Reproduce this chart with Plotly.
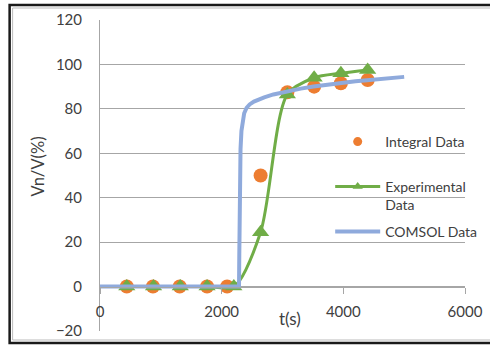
import plotly.graph_objects as go

# ---- data ----
integral_t = [440, 870, 1310, 1760, 2090, 2640, 3080, 3520, 3960, 4400]
integral_v = [0, 0, 0, 0, 0, 50, 87.5, 90, 91.5, 93]

exp_t = [440, 880, 1320, 1760, 2200, 2640, 3080, 3520, 3960, 4400]
exp_v = [0, 0, 0, 0, 0, 24.5, 86.5, 94, 96, 97.5]

comsol_t = [0, 500, 1000, 1500, 2000, 2285, 2290, 2295, 2300, 2310, 2325, 2345,
            2370, 2410, 2460, 2530, 2600, 2700, 2850, 3070, 3300, 3510, 3750,
            3950, 4200, 4390, 4700, 5000]
comsol_v = [0, 0, 0, 0, 0, 0, 15, 35, 50, 62, 70, 75,
            78, 80.5, 82, 83.3, 84.2, 85.2, 86.5, 87.9, 89.1, 90.1, 91,
            91.7, 92.4, 92.9, 93.7, 94.4]

x_ticks = [0, 2000, 4000, 6000]
y_ticks = [-20, 0, 20, 40, 60, 80, 100, 120]
series_names = ["Integral Data", "Experimental<br>Data", "COMSOL Data"]

FONT = "Lato"
TXT = "#404040"
GRID = "#A6A6A6"
ORANGE, GREEN, BLUE = "#ED7D31", "#70AD47", "#8FAADC"

fig = go.Figure()
fig.add_trace(go.Scatter(
    x=integral_t, y=integral_v, mode="markers", name=series_names[0],
    marker=dict(symbol="circle", size=14, color=ORANGE), showlegend=False))
fig.add_trace(go.Scatter(
    x=exp_t, y=exp_v, mode="lines+markers", name=series_names[1],
    line=dict(color=GREEN, width=3, shape="spline", smoothing=0.8),
    marker=dict(symbol="triangle-up", size=15, color=GREEN), showlegend=False))
fig.add_trace(go.Scatter(
    x=comsol_t, y=comsol_v, mode="lines", name=series_names[2],
    line=dict(color=BLUE, width=4), showlegend=False))

# legend entries (smaller symbols as in the reference legend), one legend each
fig.add_trace(go.Scatter(x=[None], y=[None], mode="markers", name=series_names[0],
                         marker=dict(symbol="circle", size=9, color=ORANGE),
                         legend="legend"))
fig.add_trace(go.Scatter(x=[None], y=[None], mode="lines+markers", name=series_names[1],
                         line=dict(color=GREEN, width=3),
                         marker=dict(symbol="triangle-up", size=9, color=GREEN),
                         legend="legend2"))
fig.add_trace(go.Scatter(x=[None], y=[None], mode="lines", name=series_names[2],
                         line=dict(color=BLUE, width=4), legend="legend3"))

W, H = 490, 346
L, R, T, B = 99.5, 465, 20, 331


def px(x):
    return (x - L) / (R - L)


def py(y):
    return (B - y) / (B - T)


def leg(top):
    return dict(x=px(330), y=py(top), xanchor="left", yanchor="top",
                bgcolor="rgba(0,0,0,0)", font=dict(size=14, color=TXT),
                itemwidth=45, valign="top")


fig.update_layout(
    width=W, height=H,
    margin=dict(l=L, r=W - R, t=T, b=H - B, pad=0, autoexpand=False),
    paper_bgcolor="white", plot_bgcolor="white",
    font=dict(family=FONT, size=14, color=TXT),
    showlegend=True,
    legend=leg(126), legend2=leg(171), legend3=leg(216),
    xaxis=dict(range=[0, 6000], tickvals=x_ticks, anchor="free",
               position=20 / 140, showline=True, linecolor=GRID, linewidth=1,
               ticks="outside", ticklen=6, tickcolor=GRID, showgrid=False,
               zeroline=False, ticklabelstandoff=5, automargin=False,
               tickfont=dict(size=15, color=TXT)),
    yaxis=dict(range=[-20, 120], tickvals=y_ticks, showgrid=True,
               gridcolor=GRID, gridwidth=1, showline=True, linecolor=GRID,
               zeroline=False, ticks="", ticklabelstandoff=14, automargin=False,
               tickfont=dict(size=15, color=TXT)),
    annotations=[
        dict(text="t(s)", xref="paper", yref="paper", x=px(290), y=py(318),
             showarrow=False, xanchor="center", yanchor="middle",
             font=dict(size=17, color=TXT)),
        dict(text="Vn/V(%)", xref="paper", yref="paper", x=px(37), y=py(167),
             showarrow=False, xanchor="center", yanchor="middle", textangle=-90,
             font=dict(size=16.5, color=TXT)),
    ],
    shapes=[
        dict(type="rect", xref="paper", yref="paper", x0=px(9), x1=px(494),
             y0=py(343), y1=py(5), line=dict(color="#1a1a1a", width=2.5),
             layer="above"),
        dict(type="rect", xref="paper", yref="paper", x0=px(12), x1=px(494),
             y0=py(340), y1=py(8), line=dict(color="#BBBBBB", width=1),
             layer="above"),
    ],
)

fig.write_html("out.html", config={"displayModeBar": False},
               post_script="document.body.style.margin='0';document.body.style.overflow='hidden';")
